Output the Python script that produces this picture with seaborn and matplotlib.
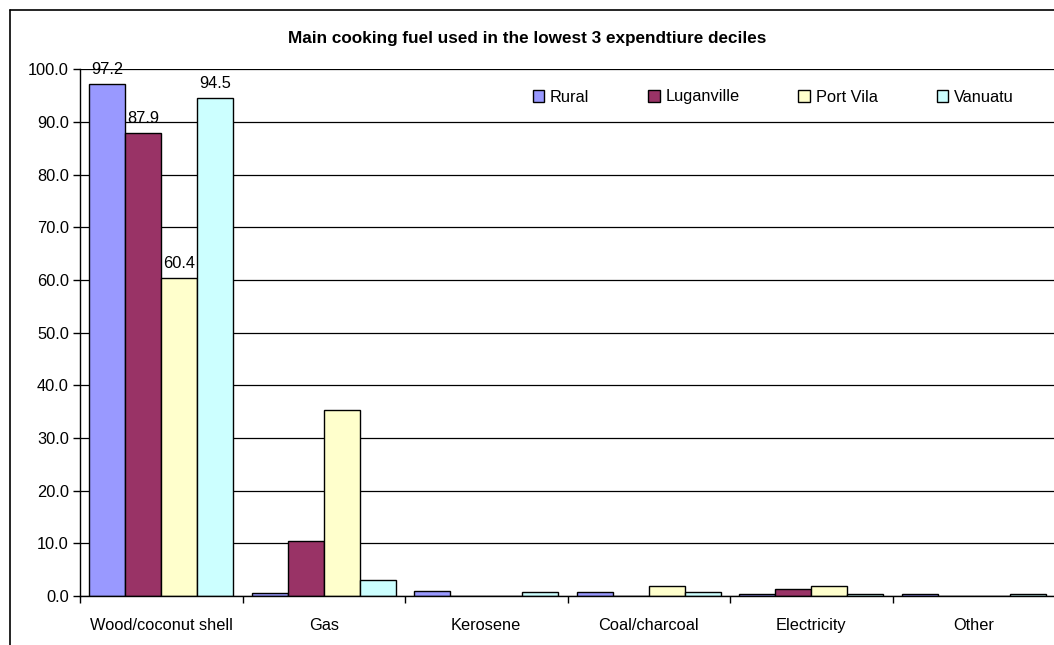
import matplotlib
matplotlib.use("Agg")
import matplotlib.pyplot as plt
from matplotlib.patches import Rectangle
from matplotlib.lines import Line2D
import seaborn as sns
import pandas as pd

# Fuel categories and the share of households (%) using each, by area
fuels = ["Wood/coconut shell", "Gas", "Kerosene", "Coal/charcoal", "Electricity", "Other"]
areas = ["Rural", "Luganville", "Port Vila", "Vanuatu"]
rural = [97.2, 0.5, 1.0, 0.8, 0.3, 0.3]
luganville = [87.9, 10.5, 0.0, 0.0, 1.3, 0.0]
port_vila = [60.4, 35.3, 0.0, 1.9, 1.9, 0.0]
vanuatu = [94.5, 3.0, 0.8, 0.8, 0.3, 0.3]
colors = ["#9999FF", "#993366", "#FFFFCC", "#CCFFFF"]
y_ticks = [0, 10, 20, 30, 40, 50, 60, 70, 80, 90, 100]

series = {"Rural": rural, "Luganville": luganville, "Port Vila": port_vila, "Vanuatu": vanuatu}
df = pd.DataFrame(
    [(f, a, v) for a in areas for f, v in zip(fuels, series[a])],
    columns=["fuel", "area", "pct"],
)

sns.set_style("white")
plt.rcParams["font.family"] = ["Liberation Sans", "DejaVu Sans"]
plt.rcParams["text.color"] = "black"
plt.rcParams["xtick.color"] = "black"
plt.rcParams["ytick.color"] = "black"
plt.rcParams["xtick.labelcolor"] = "black"
plt.rcParams["ytick.labelcolor"] = "black"

FS = 11.8

W, H = 1054, 645
fig = plt.figure(figsize=(W / 100, H / 100), dpi=100)
fig.patch.set_facecolor("white")

# chart area frame (open on the right and bottom edges)
fig.add_artist(Line2D([10 / W, 10 / W], [0, 1 - 10 / H], transform=fig.transFigure,
                      color="black", lw=1.2))
fig.add_artist(Line2D([10 / W, 1], [1 - 10 / H, 1 - 10 / H], transform=fig.transFigure,
                      color="black", lw=1.2))

left, right, top, bottom = 80, 1055, 69.3, 596
ax = fig.add_axes([left / W, (H - bottom) / H, (right - left) / W, (bottom - top) / H])

sns.barplot(data=df, x="fuel", y="pct", hue="area", order=fuels, hue_order=areas,
            palette=colors, width=0.886, gap=0, edgecolor="black", linewidth=1.0,
            saturation=1, errorbar=None, ax=ax, legend=False, zorder=3)

ax.set_ylim(0, 100)
ax.set_xlim(-0.5, len(fuels) - 0.5)
ax.set_yticks(y_ticks)
ax.set_yticklabels([f"{v:.1f}" for v in y_ticks], fontsize=FS)
ax.set_xlabel("")
ax.set_ylabel("")
ax.yaxis.grid(True, color="black", lw=0.9, zorder=0)
ax.set_axisbelow(True)
for s in ["top", "right"]:
    ax.spines[s].set_visible(False)
for s in ["left", "bottom"]:
    ax.spines[s].set_color("black")
    ax.spines[s].set_linewidth(1.0)
    ax.spines[s].set_zorder(4)

ax.tick_params(axis="y", direction="out", length=5, width=1, color="black", pad=3, left=True)
ax.set_xticks(range(len(fuels)))
ax.set_xticklabels(fuels, fontsize=FS)
ax.tick_params(axis="x", which="major", length=0, pad=16)
ax.set_xticks([i - 0.5 for i in range(len(fuels) + 1)], minor=True)
ax.tick_params(axis="x", which="minor", direction="out", length=5, width=1,
               color="black", bottom=True)

# value labels on the first category's bars
for cont in ax.containers:
    bar = cont.patches[0]
    h = bar.get_height()
    ax.annotate(f"{h:.1f}", (bar.get_x() + bar.get_width() / 2, h),
                xytext=(0, 5), textcoords="offset points", ha="center", va="bottom",
                fontsize=FS, clip_on=False, zorder=5)

handles = [Rectangle((0, 0), 1, 1, facecolor=c, edgecolor="black", lw=1.0) for c in colors]
fig.legend(handles, areas, loc="center left", bbox_to_anchor=(526 / W, 1 - 97 / H),
           ncol=4, frameon=False, fontsize=FS, handlelength=0.7, handleheight=0.7,
           handletextpad=0.35, columnspacing=3.6, borderaxespad=0)

fig.text(0.5, 1 - 38 / H, "Main cooking fuel used in the lowest 3 expendtiure deciles",
         ha="center", va="center", fontsize=12.3, fontweight="bold")

fig.savefig("out.png", dpi=100, facecolor="white")
